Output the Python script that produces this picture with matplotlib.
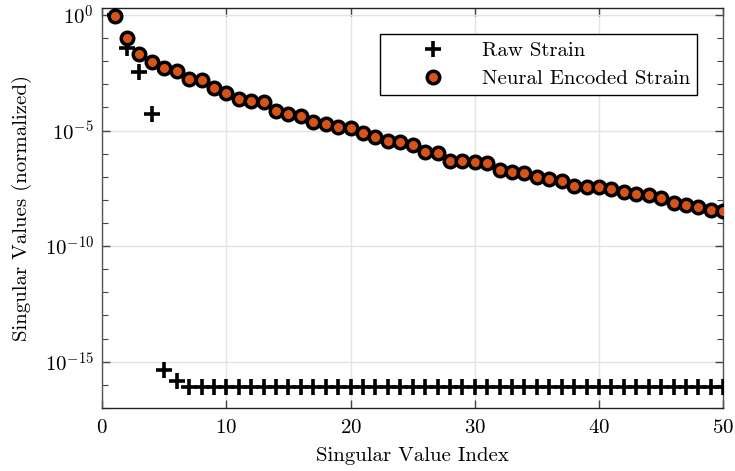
"""
Singular value spectrum: raw strain vs neural encoded strain.
Run: python plot.py
"""

import matplotlib
matplotlib.use("Agg")
import matplotlib.pyplot as plt
import numpy as np

# --------- Data (log10 of normalized singular values) ---------
INDEX = list(range(1, 51))

RAW_LOG10 = [0.0, -1.41, -2.45, -4.30, -15.37, -15.83] + [-16.09] * 44

ENCODED_LOG10 = [
    -0.05, -1.01, -1.70, -2.05, -2.28, -2.41, -2.77, -2.83, -3.15, -3.36,
    -3.65, -3.72, -3.78, -4.16, -4.27, -4.39, -4.62, -4.73, -4.86, -4.88,
    -5.12, -5.27, -5.45, -5.48, -5.63, -5.92, -5.96, -6.31, -6.32, -6.35,
    -6.42, -6.70, -6.81, -6.85, -7.00, -7.10, -7.17, -7.39, -7.43, -7.43,
    -7.53, -7.65, -7.75, -7.79, -7.94, -8.15, -8.23, -8.30, -8.44, -8.48,
]

X_TICKS = [0, 10, 20, 30, 40, 50]
Y_TICKS = [1e0, 1e-5, 1e-10, 1e-15]
Y_TICK_LABELS = [r"$10^{0}$", r"$10^{-5}$", r"$10^{-10}$", r"$10^{-15}$"]

ORANGE = "#D95319"
OUT_PATH = "out.png"
FONT_SIZE = 15


def main():
    plt.rcParams["font.family"] = "serif"
    plt.rcParams["font.serif"] = ["cmr10", "DejaVu Serif"]
    plt.rcParams["mathtext.fontset"] = "cm"
    plt.rcParams["axes.unicode_minus"] = False
    plt.rcParams["axes.formatter.use_mathtext"] = True

    raw = np.power(10.0, RAW_LOG10)
    enc = np.power(10.0, ENCODED_LOG10)

    fig = plt.figure(figsize=(7.35, 4.71), dpi=100)
    ax = fig.add_axes([0.139, 0.134, 0.845, 0.849])

    ax.semilogy(INDEX, raw, linestyle="none", marker="+", color="black",
                markersize=11, markeredgewidth=2.6, label="Raw Strain", zorder=3)
    ax.semilogy(INDEX, enc, linestyle="none", marker="o", markerfacecolor=ORANGE,
                markeredgecolor="black", markersize=9, markeredgewidth=2.5,
                label="Neural Encoded Strain", zorder=4)

    ax.set_xlim(0, 50)
    ax.set_ylim(1e-17, 2)
    ax.set_xticks(X_TICKS)
    ax.set_yticks(Y_TICKS)
    ax.set_yticklabels(Y_TICK_LABELS)
    ax.set_yticks([10.0 ** k for k in range(-17, 1)], minor=True)
    ax.set_yticklabels([], minor=True)

    ax.grid(True, which="major", color="#e3e3e3", linewidth=1.0, zorder=0)
    ax.set_axisbelow(True)

    ax.tick_params(which="both", direction="in", top=True, right=True,
                   colors="#444444", labelcolor="black", labelsize=FONT_SIZE)
    ax.tick_params(which="major", length=6, width=1.0)
    ax.tick_params(which="minor", length=4, width=0.8)
    ax.tick_params(axis="x", pad=8)
    ax.tick_params(axis="y", pad=6)

    for side in ("left", "right"):
        ax.spines[side].set_color("#555555")
    for side in ("top", "bottom"):
        ax.spines[side].set_color("#222222")
    for sp in ax.spines.values():
        sp.set_linewidth(1.0)

    ax.set_xlabel("Singular Value Index", fontsize=FONT_SIZE, labelpad=7)
    ax.set_ylabel("Singular Values (normalized)", fontsize=FONT_SIZE, labelpad=9)

    leg = ax.legend(loc="upper right", bbox_to_anchor=(0.958, 0.935),
                    borderaxespad=0, fontsize=FONT_SIZE, handlelength=4.4,
                    handletextpad=0.15, labelspacing=0.45, borderpad=0.35,
                    fancybox=False, framealpha=1, edgecolor="black")
    leg.get_frame().set_linewidth(1.0)

    fig.savefig(OUT_PATH, dpi=100)
    plt.close(fig)


if __name__ == "__main__":
    main()
